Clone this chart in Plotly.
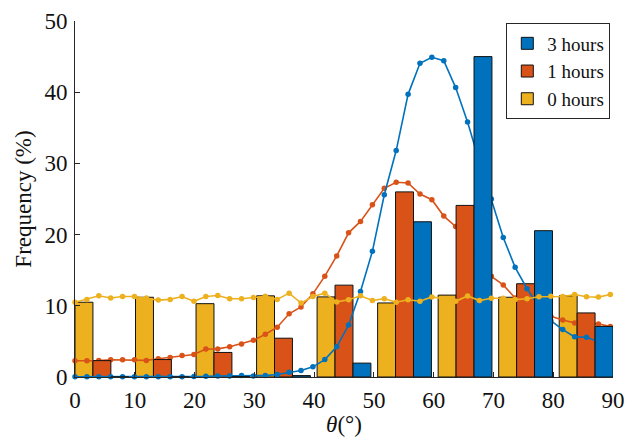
import plotly.graph_objects as go

# ---- data ----
bin_centers = [4.5, 14.625, 24.75, 34.875, 45.0, 55.125, 65.25, 75.375, 85.5]
freq_0h = [10.5, 11.2, 10.3, 11.4, 11.25, 10.4, 11.5, 11.2, 11.4]
freq_1h = [2.3, 2.45, 3.45, 5.45, 12.9, 26.0, 24.1, 13.1, 9.0]
freq_3h = [0.0, 0.0, 0.05, 0.2, 1.95, 21.8, 45.0, 20.55, 7.1]

theta_pts = [round(i * 1.99, 2) for i in range(46)]
curve_0h = [10.5, 10.9, 11.4, 11.1, 11.3, 11.3, 11.1, 10.8, 10.9, 11.3,
            10.63, 11.3, 11.45, 11.0, 11.0, 11.15, 11.33, 10.9, 11.78, 10.38,
            11.3, 11.78, 10.55, 10.85, 11.4, 10.75, 11.0, 10.5, 10.85, 10.65,
            11.25, 11.0, 10.63, 11.38, 10.73, 11.07, 11.07, 10.87, 10.98, 11.28,
            11.33, 11.3, 11.58, 11.27, 11.22, 11.6]
curve_1h = [2.28, 2.28, 2.3, 2.42, 2.42, 2.42, 2.33, 2.56, 2.75, 3.03,
            3.17, 3.92, 3.95, 4.25, 4.65, 5.15, 6.0, 7.0, 8.88, 9.84,
            11.68, 14.16, 17.0, 20.25, 21.85, 24.2, 26.5, 27.35, 27.25, 25.7,
            24.9, 22.6, 21.15, 18.6, 16.15, 14.14, 12.93, 11.1, 10.5, 10.03,
            8.52, 8.0, 7.6, 7.5, 7.46, 7.08]
curve_3h = [0.04, 0.04, 0.04, 0.04, 0.04, 0.04, 0.04, 0.04, 0.05, 0.05,
            0.06, 0.1, 0.15, 0.15, 0.2, 0.15, 0.2, 0.35, 0.67, 0.91,
            1.43, 2.45, 4.24, 7.3, 12.0, 17.65, 25.6, 31.8, 39.7, 44.07,
            44.9, 44.43, 40.65, 35.8, 30.2, 25.0, 19.6, 15.4, 12.4, 9.9,
            7.9, 6.66, 5.64, 5.58, 4.95, 4.9]

C_BLUE = "#0072BD"
C_ORANGE = "#D95319"
C_YELLOW = "#EDB120"
TXT = "#262626"
FONT = "Liberation Serif"

fig = go.Figure()

def bars(y, off, color, name, rank, xa, ya):
    return go.Bar(x=bin_centers, y=y, offset=off, width=3, name=name,
                  legendrank=rank, marker=dict(color=color, line=dict(color="#111111", width=1)),
                  xaxis=xa, yaxis=ya)

def curve(y, color, xa, ya):
    return go.Scatter(x=theta_pts, y=y, mode="lines+markers", showlegend=False,
                      line=dict(color=color, width=1.6), marker=dict(color=color, size=5.5),
                      cliponaxis=False, xaxis=xa, yaxis=ya)

fig.add_trace(bars(freq_0h, -4.5, C_YELLOW, "0 hours", 3, "x", "y"))
fig.add_trace(curve(curve_1h, C_ORANGE, "x", "y"))
fig.add_trace(bars(freq_1h, -1.5, C_ORANGE, "1 hours", 2, "x2", "y2"))
fig.add_trace(curve(curve_3h, C_BLUE, "x2", "y2"))
fig.add_trace(bars(freq_3h, 1.5, C_BLUE, "3 hours", 1, "x3", "y3"))
fig.add_trace(curve(curve_0h, C_YELLOW, "x3", "y3"))

axis_common = dict(showgrid=False, zeroline=False, showline=True, linecolor=TXT,
                   linewidth=1, ticks="inside", ticklen=5, tickcolor=TXT, tickwidth=1,
                   tickfont=dict(family=FONT, size=23, color="#111111"), mirror=False,
                   automargin=False)

# page body has an 8px default margin, so the figure is sized to fit the 640x443 window
fig.update_layout(
    width=632, height=435, autosize=False,
    margin=dict(l=67, r=27, t=13, b=66),
    paper_bgcolor="white", plot_bgcolor="white",
    barmode="overlay",
    font=dict(family=FONT, color=TXT),
    xaxis=dict(range=[0, 90], dtick=10, tick0=0, ticklabelstandoff=2,
               title=dict(text="<i>θ</i>(°)", font=dict(family=FONT, size=23, color="#111111"), standoff=4),
               **axis_common),
    yaxis=dict(range=[0, 50], dtick=10, tick0=0, ticklabelstandoff=2,
               title=dict(text="Frequency (%)", font=dict(family=FONT, size=23, color="#111111"), standoff=6),
               **axis_common),
    xaxis2=dict(overlaying="x", range=[0, 90], visible=False, anchor="y2"),
    yaxis2=dict(overlaying="y", range=[0, 50], visible=False, anchor="x2"),
    xaxis3=dict(overlaying="x", range=[0, 90], visible=False, anchor="y3"),
    yaxis3=dict(overlaying="y", range=[0, 50], visible=False, anchor="x3"),
    legend=dict(x=0.995, y=0.993, xanchor="right", yanchor="top",
                bgcolor="white", bordercolor=TXT, borderwidth=1,
                font=dict(family=FONT, size=19, color="#111111"),
                itemwidth=30, tracegroupgap=0),
    showlegend=True,
)

fig.write_html("out.html")
